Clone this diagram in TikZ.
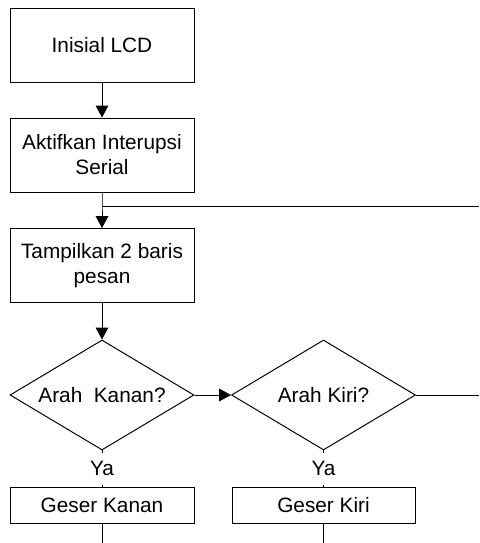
\documentclass[tikz,border=0pt]{standalone}
\usepackage{fontspec}
\setmainfont{Liberation Sans}
\usepackage{tikz}
\usetikzlibrary{arrows.meta,shapes.geometric}

\begin{document}
\begin{tikzpicture}[
    font=\fontsize{14.8}{17.8}\selectfont,
    process/.style={
        rectangle,
        draw=black,
        line width=0.7pt,
        align=center,
        inner sep=0pt,
        minimum width=#1,
        minimum height=1.85cm
    },
    process/.default=4.6cm,
    shortbox/.style={
        process=#1,
        minimum height=0.9cm
    },
    decision/.style={
        diamond,
        draw=black,
        line width=0.7pt,
        inner sep=0pt,
        aspect=1.67,
        minimum width=4.6cm,
        minimum height=2.75cm
    },
    arrow/.style={
        -{Triangle[length=8.5pt,width=9pt]},
        line width=0.7pt
    },
    line/.style={
        line width=0.7pt
    },
    yalabel/.style={
        fill=white,
        inner xsep=2pt,
        minimum height=0.8cm
    }
]

\useasboundingbox (0,0) rectangle (11.975,-13.575);

% Main steps
\node[process] (lcd) at (2.55,-1.125) {Inisial LCD};
\node[process] (serial) at (2.55,-3.875) {Aktifkan Interupsi\\Serial};
\node[process] (pesan) at (2.55,-6.6375) {Tampilkan 2 baris\\pesan};

% Decisions
\node[decision] (kanan) at (2.55,-9.875) {Arah~ Kanan?};
\node[decision] (kiri) at (8.0875,-9.875) {Arah Kiri?};

\node[shortbox] (geserkanan) at (2.55,-12.625) {Geser Kanan};
\node[shortbox=4.575cm] (geserkiri) at (8.0875,-12.625) {Geser Kiri};

% Free ends
\coordinate (join) at (2.55,-5.15);
\coordinate (loopin) at (11.975,-5.15);
\coordinate (kiriout) at (11.975,-9.875);
\coordinate (kananout) at (2.55,-13.575);
\coordinate (kiriend) at (8.0875,-13.575);

% Main arrows
\draw[arrow] (lcd) -- (serial);
\draw[arrow] (serial.south) -- (join) -- (pesan.north);
\draw[line] (join) -- (loopin);
\draw[arrow] (pesan) -- (kanan);
\draw[arrow] (kanan) -- (kiri);
\draw[line] (kiri.east) -- (kiriout);

% Yes branches
\draw[line] (kanan.south) -- node[yalabel] {Ya} (geserkanan.north);
\draw[line] (kiri.south) -- node[yalabel] {Ya} (geserkiri.north);
\draw[line] (geserkanan.south) -- (kananout);
\draw[line] (geserkiri.south) -- (kiriend);

\end{tikzpicture}
\end{document}
